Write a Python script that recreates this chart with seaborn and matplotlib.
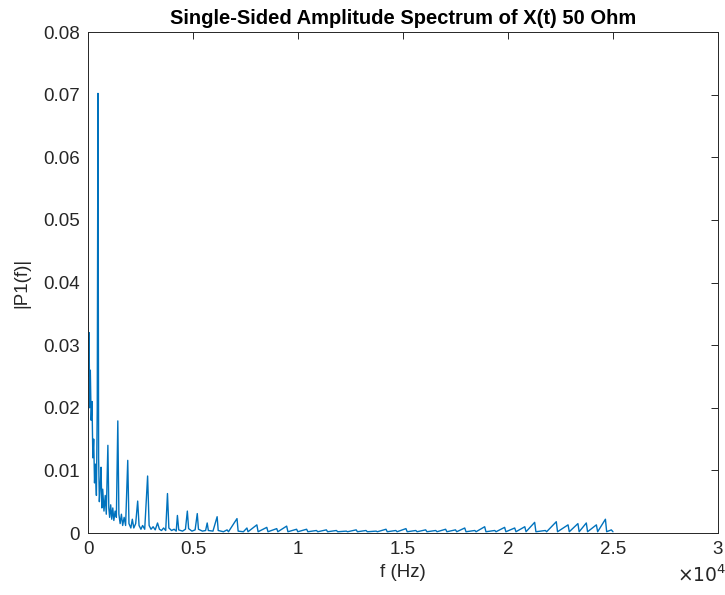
import pandas as pd
import matplotlib
matplotlib.use('Agg')
import matplotlib.pyplot as plt
import seaborn as sns

# vertices of the spectrum trace: (frequency in Hz, |P1(f)|)
low_band = [
    (0, 0.0400), (20, 0.0250), (50, 0.0320), (80, 0.0200), (110, 0.0260),
    (150, 0.0180), (190, 0.0210), (230, 0.0120), (270, 0.0150), (310, 0.0080),
    (350, 0.0110), (400, 0.0060), (440, 0.0200), (473, 0.0702), (505, 0.0120),
    (540, 0.0050), (590, 0.0080), (620, 0.0105), (660, 0.0040), (700, 0.0070),
    (760, 0.0035), (820, 0.0060), (870, 0.0030), (946, 0.0140), (990, 0.0040),
    (1030, 0.0025), (1080, 0.0045), (1130, 0.0022), (1180, 0.0040),
    (1230, 0.0020), (1290, 0.0035), (1350, 0.0025), (1419, 0.0179),
    (1470, 0.0030), (1530, 0.0015), (1590, 0.0030), (1650, 0.0012),
    (1720, 0.0025), (1790, 0.0012), (1892, 0.0116), (1950, 0.0015),
    (2040, 0.0008), (2110, 0.0022), (2180, 0.0008), (2270, 0.0015),
    (2365, 0.0051), (2430, 0.0012), (2520, 0.0006), (2600, 0.0012),
    (2700, 0.0006), (2838, 0.0091), (2910, 0.0012), (3000, 0.0006),
    (3100, 0.0010), (3200, 0.0005), (3311, 0.0016), (3400, 0.0006),
    (3500, 0.0004), (3600, 0.0008), (3700, 0.0004), (3784, 0.0063),
    (3850, 0.0008), (3980, 0.0004), (4100, 0.0006), (4200, 0.0003),
    (4257, 0.0028), (4320, 0.0005), (4500, 0.0003), (4640, 0.0006),
    (4730, 0.0035), (4790, 0.0007), (4950, 0.0003), (5100, 0.0005),
    (5203, 0.0031), (5260, 0.0006), (5450, 0.0003), (5600, 0.0004),
    (5676, 0.0016), (5730, 0.0004), (5950, 0.0003), (6149, 0.0026),
    (6200, 0.0004), (6450, 0.0002), (6622, 0.0005), (6690, 0.0002),
    (7095, 0.0023), (7150, 0.0003), (7400, 0.0002), (7568, 0.0008),
    (7620, 0.0002), (8041, 0.0013), (8100, 0.0002), (8514, 0.0009),
    (8570, 0.0002), (8987, 0.0007), (9040, 0.0002), (9460, 0.0011),
    (9520, 0.0002), (9933, 0.0006), (9990, 0.0002),
]
high_band = [
    (10410, 0.0006), (10470, 0.0002), (10880, 0.0004), (10940, 0.0002),
    (11350, 0.0005), (11410, 0.0002), (11830, 0.0004), (11890, 0.0002),
    (12300, 0.0003), (12360, 0.0002), (12770, 0.0005), (12830, 0.0002),
    (13240, 0.0004), (13300, 0.0002), (13720, 0.0003), (13780, 0.0002),
    (14190, 0.0006), (14250, 0.0002), (14660, 0.0004), (14720, 0.0002),
    (15140, 0.0007), (15200, 0.0002), (15610, 0.0004), (15670, 0.0002),
    (16080, 0.0005), (16140, 0.0002), (16560, 0.0004), (16620, 0.0002),
    (17030, 0.0006), (17090, 0.0002), (17500, 0.0005), (17560, 0.0002),
    (17940, 0.0008), (18000, 0.0002), (18420, 0.0004), (18480, 0.0002),
    (18890, 0.0010), (18950, 0.0002), (19370, 0.0004), (19430, 0.0002),
    (19840, 0.0009), (19900, 0.0002), (20320, 0.0008), (20380, 0.0002),
    (20800, 0.0010), (20860, 0.0002), (21270, 0.0017), (21330, 0.0002),
    (21780, 0.0004), (21840, 0.0002), (22300, 0.0018), (22360, 0.0002),
    (22860, 0.0013), (22920, 0.0002), (23330, 0.0015), (23390, 0.0002),
    (23730, 0.0016), (23790, 0.0002), (24210, 0.0013), (24270, 0.0002),
    (24640, 0.0022), (24700, 0.0002), (24920, 0.0005), (25000, 0.0002),
]
freq_hz = [p[0] for p in low_band + high_band]
amplitude = [p[1] for p in low_band + high_band]

x_ticks = [0, 5000, 10000, 15000, 20000, 25000, 30000]
x_tick_labels = ['0', '0.5', '1', '1.5', '2', '2.5', '3']
y_ticks = [0, 0.01, 0.02, 0.03, 0.04, 0.05, 0.06, 0.07, 0.08]
y_tick_labels = ['0', '0.01', '0.02', '0.03', '0.04', '0.05', '0.06', '0.07', '0.08']

df = pd.DataFrame({'f': freq_hz, 'P1': amplitude})

sns.set_style('white')
plt.rcParams['font.family'] = ['Liberation Sans', 'DejaVu Sans']
axis_grey = '#262626'

fig = plt.figure(figsize=(7.25, 5.95), dpi=100)
ax = fig.add_axes([0.1214, 0.1042, 0.8689, 0.842])

sns.lineplot(data=df, x='f', y='P1', ax=ax, color='#0072BD', linewidth=1.0,
             sort=False, estimator=None)

ax.set_xlim(0, 30000)
ax.set_ylim(0, 0.08)
ax.set_xticks(x_ticks)
ax.set_xticklabels(x_tick_labels)
ax.set_yticks(y_ticks)
ax.set_yticklabels(y_tick_labels)
ax.tick_params(direction='in', length=5, width=0.7, colors=axis_grey,
               labelsize=13.5, top=True, right=True, pad=6)
for sp in ax.spines.values():
    sp.set_visible(True)
    sp.set_color(axis_grey)
    sp.set_linewidth(0.7)

ax.set_xlabel('f (Hz)', fontsize=13.5, color=axis_grey, labelpad=4)
ax.set_ylabel('|P1(f)|', fontsize=13.5, color=axis_grey, labelpad=9)
ax.set_title('Single-Sided Amplitude Spectrum of X(t) 50 Ohm',
             fontsize=14.5, fontweight='bold', color='black', pad=6)
ax.text(0.935, -0.098, r'$\times 10^{4}$', transform=ax.transAxes,
        fontsize=13.5, color=axis_grey, va='baseline', ha='left')

fig.savefig('out.png', dpi=100)
